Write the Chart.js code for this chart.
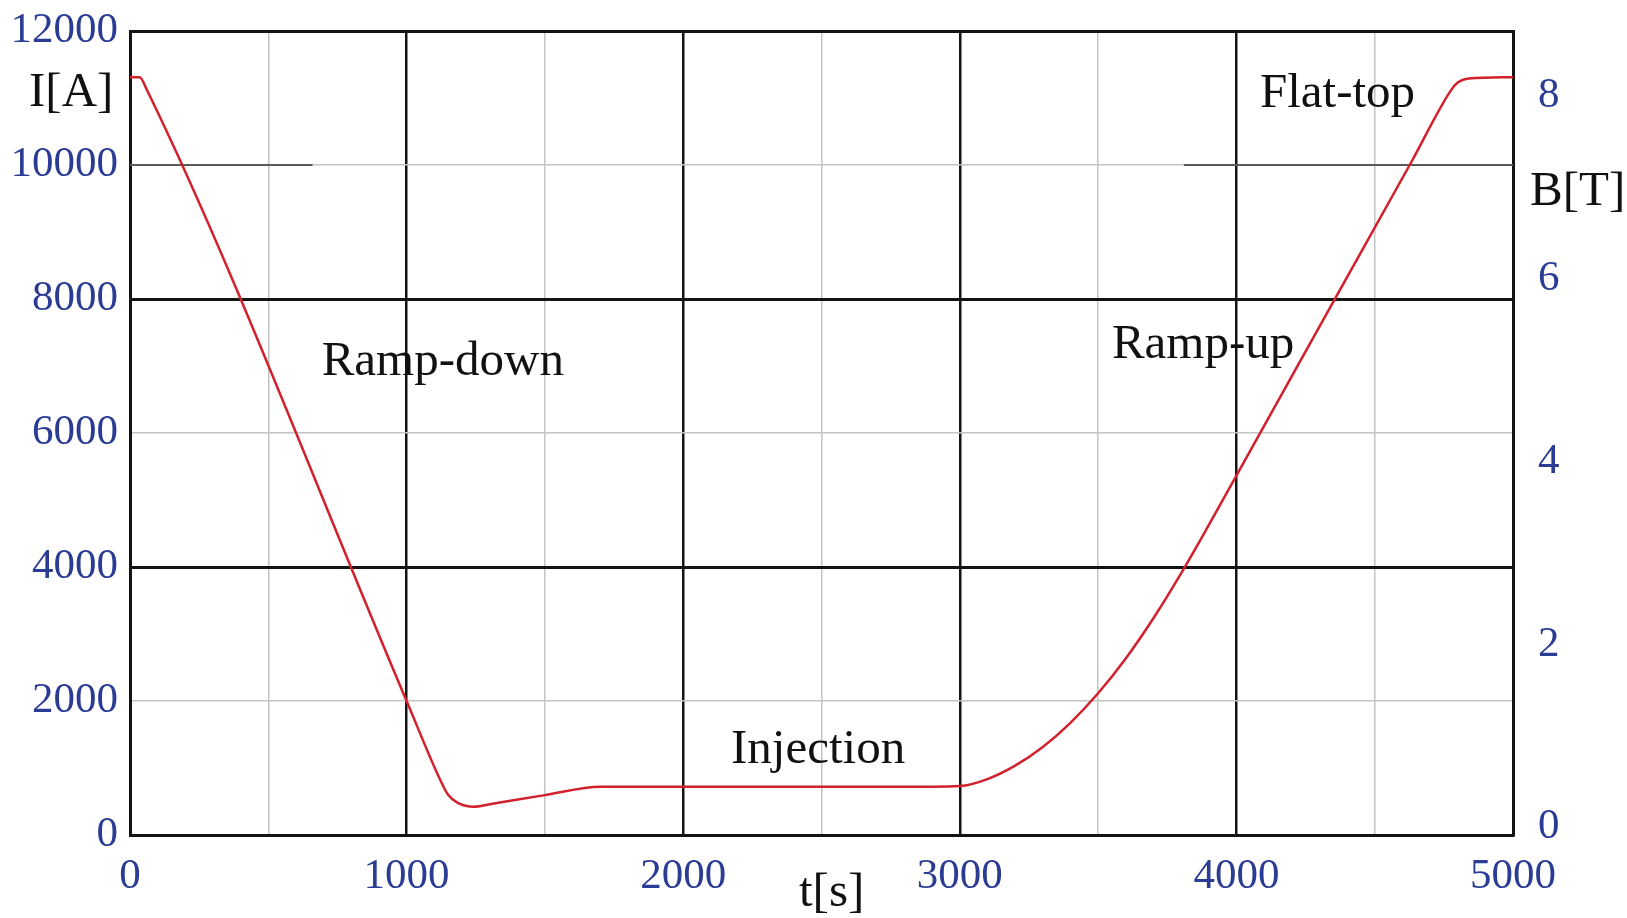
<!DOCTYPE html>
<html>
<head>
<meta charset="utf-8">
<script src="https://cdn.jsdelivr.net/npm/chart.js@4/dist/chart.umd.min.js"></script>
<style>
  html, body { margin: 0; padding: 0; background: #fff; }
  #wrap { width: 1627px; height: 918px; }
</style>
</head>
<body>
<div id="wrap"><canvas id="c" width="1627" height="918"></canvas></div>
<script>
// ─── Data ─────────────────────────────────────────────────────────────────────

const TIME_S = [
  0, 35, 60, 1000, 1120, 1150, 1185, 1243, 1300, 1500, 1700, 2000, 2500, 2900,
  3000, 3100, 3200, 3300, 3400, 3500, 3600, 3700, 3800, 3900, 4000, 4338,
  4634, 4775, 4800, 4840, 5000,
];
const CURRENT_A = [
  11310, 11310, 11130, 2000, 836, 600, 480, 423, 460, 595, 721, 721, 721, 721,
  730, 835, 1035, 1315, 1675, 2115, 2635, 3235, 3905, 4625, 5365, 7866,
  10056, 11110, 11230, 11290, 11310,
];

const X_TICKS = [0, 1000, 2000, 3000, 4000, 5000];
const B_TICKS = [0, 2, 4, 6, 8];

const LABELS = [
  { text: "Ramp-down", t: 693,  i: 6860 },
  { text: "Ramp-up",   t: 3550, i: 7120 },
  { text: "Injection", t: 2173, i: 1070 },
  { text: "Flat-top",  t: 4085, i: 10860 },
];

// darker stretches of the 10000 A grid line (seconds)
const DARK_10K = [[0, 660], [3810, 5000]];

// ─── Style ────────────────────────────────────────────────────────────────────

const FONT       = "'Liberation Serif', 'Times New Roman', serif";
const TICK_BLUE  = "#2b3c94";
const LINE_RED   = "#d2202c";
const MAJOR      = "#141414";
const MINOR      = "#c4c4c4";

const isMajorX = (v) => v % 1000 === 0;
const isMajorY = (v) => v % 4000 === 0;

const noPad = (s) => {
  s.paddingTop = 0;
  s.paddingBottom = 0;
  s.paddingLeft = 0;
  s.paddingRight = 0;
};

// ─── Plugins ──────────────────────────────────────────────────────────────────

const gridFix = {
  id: "gridFix",
  beforeDatasetsDraw(chart) {
    const { ctx, scales } = chart;
    const y = scales.y.getPixelForValue(10000);
    ctx.save();
    ctx.strokeStyle = "#5a5a5a";
    ctx.lineWidth = 1.8;
    for (const [a, b] of DARK_10K) {
      ctx.beginPath();
      ctx.moveTo(scales.x.getPixelForValue(a), y);
      ctx.lineTo(scales.x.getPixelForValue(b), y);
      ctx.stroke();
    }
    ctx.restore();
  },
};

const textPlugin = {
  id: "texts",
  afterDraw(chart) {
    const { ctx, scales } = chart;
    ctx.save();
    ctx.fillStyle = "#111";
    ctx.font = `49px ${FONT}`;
    ctx.textBaseline = "alphabetic";
    ctx.textAlign = "left";
    for (const l of LABELS) {
      ctx.fillText(l.text, scales.x.getPixelForValue(l.t), scales.y.getPixelForValue(l.i));
    }
    ctx.fillText("I[A]", 29, 106);
    ctx.fillText("B[T]", 1530, 205);
    ctx.fillText("t[s]", 799, 906);
    ctx.restore();
  },
};

// ─── Chart ────────────────────────────────────────────────────────────────────

const points = TIME_S.map((t, k) => ({ x: t, y: CURRENT_A[k] }));

new Chart(document.getElementById("c").getContext("2d"), {
  type: "scatter",
  data: {
    datasets: [{
      data: points,
      showLine: true,
      borderColor: LINE_RED,
      borderWidth: 2.5,
      pointRadius: 0,
      cubicInterpolationMode: "monotone",
      yAxisID: "y",
    }],
  },
  options: {
    responsive: false,
    animation: false,
    layout: { padding: { top: 31, left: 0, right: 0, bottom: 0 } },
    plugins: { legend: { display: false }, tooltip: { enabled: false } },
    scales: {
      x: {
        type: "linear",
        min: 0,
        max: 5000,
        afterFit: (s) => { s.height = 83; noPad(s); },
        border: { color: MAJOR, width: 3 },
        grid: {
          drawTicks: false,
          color: (c) => (isMajorX(c.tick.value) ? MAJOR : MINOR),
          lineWidth: (c) => (isMajorX(c.tick.value) ? 2.5 : 1.5),
        },
        ticks: {
          stepSize: 500,
          autoSkip: false,
          maxRotation: 0,
          padding: 16,
          color: TICK_BLUE,
          font: { family: FONT, size: 43 },
          callback: (v) => (X_TICKS.includes(v) ? String(v) : ""),
        },
      },
      y: {
        position: "left",
        min: 0,
        max: 12000,
        afterFit: (s) => { s.width = 130; noPad(s); },
        border: { color: MAJOR, width: 3 },
        grid: {
          drawTicks: false,
          color: (c) => (isMajorY(c.tick.value) ? MAJOR : MINOR),
          lineWidth: (c) => (isMajorY(c.tick.value) ? 3 : 1.5),
        },
        ticks: {
          stepSize: 2000,
          padding: 12,
          color: TICK_BLUE,
          font: { family: FONT, size: 43 },
          callback: (v) => String(v),
        },
      },
      yB: {
        position: "right",
        min: 0,
        max: 8.8,
        afterFit: (s) => { s.width = 114; noPad(s); },
        border: { color: MAJOR, width: 3 },
        grid: { drawOnChartArea: false, drawTicks: false },
        afterBuildTicks: (s) => { s.ticks = B_TICKS.map((v) => ({ value: v })); },
        ticks: {
          padding: 25,
          labelOffset: -8,
          color: TICK_BLUE,
          font: { family: FONT, size: 43 },
          callback: (v) => String(v),
        },
      },
    },
  },
  plugins: [gridFix, textPlugin],
});
</script>
</body>
</html>
